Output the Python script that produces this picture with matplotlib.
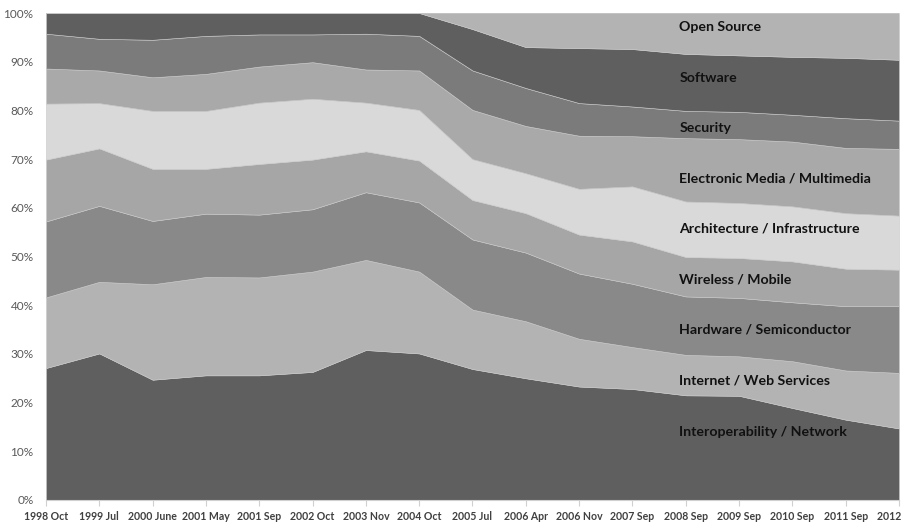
import numpy as np
import matplotlib
matplotlib.use("Agg")
import matplotlib.pyplot as plt
from matplotlib.ticker import FuncFormatter

# survey dates (x categories)
dates = ["1998 Oct", "1999 Jul", "2000 June", "2001 May", "2001 Sep", "2002 Oct",
         "2003 Nov", "2004 Oct", "2005 Jul", "2006 Apr", "2006 Nov", "2007 Sep",
         "2008 Sep", "2009 Sep", "2010 Sep", "2011 Sep", "2012 Sep"]

# share of each topic, percent (bottom to top)
interop = [27.1, 30.1, 24.7, 25.6, 25.6, 26.3, 30.8, 30.1, 26.9, 25.0, 23.3, 22.8, 21.5, 21.4, 18.9, 16.5, 14.7]
internet = [14.5, 14.7, 19.6, 20.2, 20.1, 20.6, 18.5, 16.8, 12.2, 11.7, 9.8, 8.6, 8.3, 8.1, 9.6, 10.1, 11.4]
hardware = [15.6, 15.6, 13.0, 13.0, 12.9, 12.8, 13.9, 14.2, 14.4, 14.1, 13.4, 13.0, 12.0, 12.0, 12.1, 13.2, 13.7]
wireless = [12.7, 11.8, 10.7, 9.2, 10.4, 10.2, 8.4, 8.6, 8.1, 8.1, 8.0, 8.7, 8.1, 8.2, 8.4, 7.7, 7.5]
architecture = [11.5, 9.3, 11.9, 11.9, 12.6, 12.5, 10.0, 10.4, 8.4, 8.2, 9.4, 11.3, 11.4, 11.3, 11.3, 11.4, 11.1]
media = [7.2, 6.7, 6.9, 7.6, 7.4, 7.5, 6.8, 8.1, 10.1, 9.7, 10.9, 10.3, 13.0, 13.1, 13.3, 13.4, 13.7]
security = [7.15, 6.5, 7.7, 7.8, 6.6, 5.7, 7.35, 7.1, 8.1, 7.8, 6.7, 6.1, 5.6, 5.6, 5.5, 6.1, 5.8]
software = [4.25, 5.3, 5.5, 4.7, 4.4, 4.4, 4.25, 4.7, 8.5, 8.4, 11.3, 11.8, 11.7, 11.6, 11.9, 12.4, 12.5]
open_source = [0, 0, 0, 0, 0, 0, 0, 0, 3.3, 7.0, 7.2, 7.4, 8.4, 8.7, 9.0, 9.2, 9.6]

names = ["Interoperability / Network", "Internet / Web Services", "Hardware / Semiconductor",
         "Wireless / Mobile", "Architecture / Infrastructure", "Electronic Media / Multimedia",
         "Security", "Software", "Open Source"]
series = [interop, internet, hardware, wireless, architecture, media, security, software, open_source]
colors = ["#5f5f5f", "#b3b3b3", "#898989", "#a6a6a6", "#d9d9d9",
          "#a9a9a9", "#7b7b7b", "#5f5f5f", "#b3b3b3"]

x = np.arange(len(dates))
data = np.array(series, dtype=float)
# normalise each column to 100%
data = data / data.sum(axis=0) * 100

fig = plt.figure(figsize=(9.03, 5.23), dpi=100)
ax = fig.add_axes([46 / 903, 23 / 523, 853 / 903, 487 / 523])

ax.stackplot(x, data, colors=colors, edgecolor="#c8c8c8", linewidth=0.4)

ax.set_xlim(0, len(dates) - 1)
ax.set_ylim(0, 100)
ax.set_yticks(np.arange(0, 101, 10))
ax.yaxis.set_major_formatter(FuncFormatter(lambda v, p: "{:.0f}%".format(v)))
ax.set_xticks(x)
ax.set_xticklabels(dates, fontsize=7.6, fontweight="bold", color="#404040", family="Lato")
for lab in ax.get_yticklabels():
    lab.set_fontsize(8.5)
    lab.set_color("#595959")
    lab.set_family("Lato")

ax.tick_params(axis="y", length=0, pad=9)
ax.tick_params(axis="x", length=4, color="#d0d0d0", pad=4)
for side in ["left", "right", "top"]:
    ax.spines[side].set_visible(False)
ax.spines["bottom"].set_color("#d0d0d0")
ax.axhline(100, color="#c8c8c8", lw=0.8, zorder=0.5)

# series names placed inside their bands
label_y = [14.0, 24.5, 35.0, 45.3, 55.8, 66.0, 76.3, 86.6, 97.1]
for name, ly in zip(names, label_y):
    ax.text(11.88, ly, name, fontsize=10.2, fontweight="bold", family="Lato",
            color="#111111", va="center", ha="left")

fig.savefig("out.png", dpi=100)
